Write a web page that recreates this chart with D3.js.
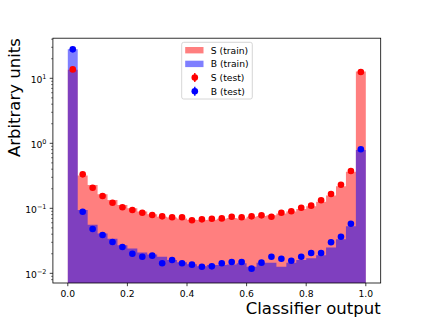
<!DOCTYPE html>
<html>
<head>
<meta charset="utf-8">
<script src="https://cdn.jsdelivr.net/npm/d3@7"></script>
<style>
  body { margin: 0; background: #fff; }
  svg { display: block; font-family: "DejaVu Sans", sans-serif; }
</style>
</head>
<body>
<div id="chart"></div>
<script>
// 30 equal bins on [0, 1]
var nBins = 30;

// training histograms (stepfilled, alpha .5)
var sTrain = [13.6, 0.32, 0.228, 0.164, 0.134, 0.112, 0.100, 0.089, 0.081, 0.074,
              0.072, 0.070, 0.067, 0.066, 0.067, 0.069, 0.071, 0.070, 0.074, 0.076,
              0.078, 0.083, 0.089, 0.098, 0.108, 0.126, 0.158, 0.218, 0.365, 12.7];
var bTrain = [28.0, 0.094, 0.056, 0.041, 0.034, 0.027, 0.024, 0.021, 0.0195, 0.018,
              0.016, 0.0148, 0.0138, 0.0128, 0.0134, 0.0134, 0.0137, 0.0143, 0.0126, 0.0146,
              0.0146, 0.0126, 0.0146, 0.0161, 0.017, 0.019, 0.025, 0.0335, 0.053, 0.79];

// test points
var sTest = [13.7, 0.333, 0.207, 0.155, 0.122, 0.104, 0.094, 0.0856, 0.0789, 0.0753,
             0.0727, 0.0727, 0.0654, 0.0677, 0.069, 0.070, 0.0743, 0.0727, 0.0753, 0.078,
             0.0743, 0.0856, 0.090, 0.102, 0.110, 0.133, 0.166, 0.231, 0.375, 12.5];
var bTest = [27.9, 0.0887, 0.0481, 0.0388, 0.0303, 0.0254, 0.020, 0.018, 0.0187, 0.0143,
             0.016, 0.0143, 0.0136, 0.0126, 0.0128, 0.0143, 0.0149, 0.0149, 0.0118, 0.0146,
             0.018, 0.0168, 0.0156, 0.018, 0.0205, 0.0205, 0.030, 0.0366, 0.058, 0.81];

var xTicks = [0, 0.2, 0.4, 0.6, 0.8, 1.0];
var yTicks = [0.01, 0.1, 1, 10];
var yExp = ["\u22122", "\u22121", "0", "1"];
var legendLabels = ["S (train)", "B (train)", "S (test)", "B (test)"];

var W = 423, H = 318;
var axL = 52.9, axR = 380.7, axT = 38.2, axB = 283;

var svg = d3.select("#chart").append("svg")
    .attr("width", W).attr("height", H);

var x = d3.scaleLinear().domain([-0.05, 1.05]).range([axL, axR]);
var y = d3.scaleLog().domain([0.0071, 41.4]).range([axB, axT]);

var edges = d3.range(nBins + 1).map(function(i) { return i / nBins; });

svg.append("clipPath").attr("id", "clip")
  .append("rect").attr("x", axL).attr("y", axT)
  .attr("width", axR - axL).attr("height", axB - axT);

var g = svg.append("g").attr("clip-path", "url(#clip)");

// stepfilled histogram as one polygon
var area = d3.area()
    .curve(d3.curveStepAfter)
    .x(function(d) { return x(d[0]); })
    .y0(axB + 5)
    .y1(function(d) { return y(d[1]); });

function hist(vals, color) {
  var pts = vals.map(function(v, i) { return [edges[i], v]; });
  pts.push([edges[nBins], vals[nBins - 1]]);
  g.append("path")
    .attr("d", area(pts))
    .style("fill", color)
    .style("fill-opacity", 0.5);
}
hist(sTrain, "#ff0000");
hist(bTrain, "#0000ff");

function points(vals, color) {
  g.append("g").selectAll("circle")
    .data(vals)
    .enter().append("circle")
    .attr("cx", function(d, i) { return x((edges[i] + edges[i + 1]) / 2); })
    .attr("cy", function(d) { return y(d); })
    .attr("r", 3.3)
    .style("fill", color);
}
points(sTest, "#ff0000");
points(bTest, "#0000ff");

// frame
svg.append("rect")
  .attr("x", axL).attr("y", axT)
  .attr("width", axR - axL).attr("height", axB - axT)
  .style("fill", "none").style("stroke", "#000").style("stroke-width", 0.8);

// x axis
var xa = svg.append("g");
xTicks.forEach(function(t) {
  xa.append("line").attr("x1", x(t)).attr("x2", x(t))
    .attr("y1", axB).attr("y2", axB + 3.2)
    .style("stroke", "#000").style("stroke-width", 0.75);
  xa.append("text").attr("x", x(t)).attr("y", 296.7)
    .attr("text-anchor", "middle").style("font-size", "9.2px")
    .text(d3.format(".1f")(t));
});

// y axis, log ticks
var ya = svg.append("g");
yTicks.forEach(function(t, i) {
  ya.append("line").attr("x1", axL - 3.2).attr("x2", axL)
    .attr("y1", y(t)).attr("y2", y(t))
    .style("stroke", "#000").style("stroke-width", 0.75);
  var tx = ya.append("text").attr("x", axL - 6.4).attr("y", y(t) + 4.2)
    .attr("text-anchor", "end").style("font-size", "9.2px");
  tx.append("tspan").text("10");
  tx.append("tspan").attr("dy", -3.8).style("font-size", "6.5px").text(yExp[i]);
});
var minor = [];
[0.001, 0.01, 0.1, 1, 10].forEach(function(p) {
  d3.range(2, 10).forEach(function(k) {
    var v = p * k;
    if (v > y.domain()[0] && v < y.domain()[1]) minor.push(v);
  });
});
ya.selectAll(".minor").data(minor).enter().append("line")
  .attr("x1", axL - 1.8).attr("x2", axL)
  .attr("y1", function(d) { return y(d); }).attr("y2", function(d) { return y(d); })
  .style("stroke", "#000").style("stroke-width", 0.55);

// axis labels
svg.append("text").attr("x", axR).attr("y", 313.5)
  .attr("text-anchor", "end").style("font-size", "16.5px")
  .text("Classifier output");
svg.append("text")
  .attr("transform", "translate(19.5," + axT + ") rotate(-90)")
  .attr("text-anchor", "end").style("font-size", "16.5px")
  .text("Arbitrary units");

// legend
var lg = svg.append("g");
lg.append("rect").attr("x", 181.7).attr("y", 42.3)
  .attr("width", 70.6).attr("height", 56.7).attr("rx", 2)
  .style("fill", "#fff").style("fill-opacity", 0.8)
  .style("stroke", "#cccccc").style("stroke-width", 0.8);
var rowY = [50.2, 63.9, 77.6, 91.2];
var lcol = ["#ff0000", "#0000ff", "#ff0000", "#0000ff"];
legendLabels.forEach(function(lab, i) {
  if (i < 2) {
    lg.append("rect").attr("x", 185.2).attr("y", rowY[i] - 3.2)
      .attr("width", 18.3).attr("height", 6.4)
      .style("fill", lcol[i]).style("fill-opacity", 0.5);
  } else {
    lg.append("line").attr("x1", 194.8).attr("x2", 194.8)
      .attr("y1", rowY[i] - 4.5).attr("y2", rowY[i] + 4.5)
      .style("stroke", lcol[i]).style("stroke-width", 1.4);
    lg.append("circle").attr("cx", 194.8).attr("cy", rowY[i]).attr("r", 3.3)
      .style("fill", lcol[i]);
  }
  lg.append("text").attr("x", 210.8).attr("y", rowY[i] + 3.3)
    .style("font-size", "9.2px").text(lab);
});
</script>
</body>
</html>
